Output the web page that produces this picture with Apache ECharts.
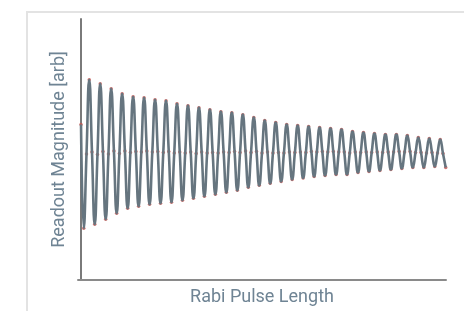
<!DOCTYPE html>
<html>
<head>
<meta charset="utf-8">
<script src="https://cdn.jsdelivr.net/npm/echarts@6/dist/echarts.min.js"></script>
<style>
html,body{margin:0;padding:0;background:#fff;}
#c{width:464px;height:311px;}
</style>
</head>
<body>
<div id="c"></div>
<script>
// Rabi pulse length (sample index, uniform sweep)
var pulseLength = [
  0,1,2,3,4,5,6,7,8,9,10,11,12,13,14,15,16,17,18,19,
  20,21,22,23,24,25,26,27,28,29,30,31,32,33,34,35,36,37,38,39,
  40,41,42,43,44,45,46,47,48,49,50,51,52,53,54,55,56,57,58,59,
  60,61,62,63,64,65,66,67,68,69,70,71,72,73,74,75,76,77,78,79,
  80,81,82,83,84,85,86,87,88,89,90,91,92,93,94,95,96,97,98,99,
  100,101,102,103,104,105,106,107,108,109,110,111,112,113,114,115,116,117,118,119,
  120,121,122,123,124,125,126,127,128,129,130,131,132,133
];
// Readout magnitude [arb]
var readoutMagnitude = [
  156,
  52,126.5,201,128.5,  56,126,197,129,  61,126.5,192,129.5,  67,127,187,129.5,
  72,128,184,129,  74,128.5,183,129.5,  76,128.5,181,129,  77,128,180,129,
  78,127.5,177,128.5,  80,127.5,175,128.5,  82,127,173,128.5,  84,127.5,171,128,
  86,127.5,169,128.5,  88,128,168,129,  90,128,166,129.5,  93,128,163,129,
  95,127.5,160,128.5,  97,127.5,158,128,  99,127.5,156,128.5,  101,128,155,128.5,
  102.5,128,154,129,  104,128.5,153,129,  105,128.5,152,129,  106,128.5,151,128.5,
  106,127.5,149,128.5,  108,128,148,128.5,  109,128,147,128.5,  110,128,146,128.5,
  111,128.5,146,129,  112,128.5,145,129,  113,128,143,128,  113,127.5,142,128,
  114,127.5,141,127,
  113
];
var xTitle = 'Rabi Pulse Length';
var yTitle = 'Readout Magnitude [arb]';

var pts = pulseLength.map(function(x, i){ return [x, readoutMagnitude[i]]; });

var chart = echarts.init(document.getElementById('c'), null, {renderer:'canvas'});
chart.setOption({
  animation: false,
  backgroundColor: '#ffffff',
  graphic: [{
    type: 'rect', silent: true, z: -10,
    shape: {x: 27, y: 12, width: 460, height: 320},
    style: {fill: 'none', stroke: '#e3e3e3', lineWidth: 2}
  }],
  grid: {left: 78, right: 18, top: 19, bottom: 30, containLabel: false},
  xAxis: {
    type: 'value', min: -1.1, max: 133.1,
    name: xTitle, nameLocation: 'middle', nameGap: 8,
    nameTextStyle: {color: '#6f8494', fontSize: 18, fontFamily: 'Roboto'},
    axisLine: {show: true, lineStyle: {color: '#8a8a8a', width: 2}},
    axisTick: {show: false}, axisLabel: {show: false}, splitLine: {show: false}
  },
  yAxis: {
    type: 'value', min: 0, max: 262,
    name: yTitle, nameLocation: 'middle', nameGap: 10, nameRotate: 90,
    nameTextStyle: {color: '#6f8494', fontSize: 18, fontFamily: 'Roboto'},
    axisLine: {show: true, lineStyle: {color: '#7a7a7a', width: 2}},
    axisTick: {show: false}, axisLabel: {show: false}, splitLine: {show: false}
  },
  series: [
    {
      name: 'data', type: 'scatter', data: pts, z: 1,
      symbolSize: 3.5, itemStyle: {color: '#c8524e', opacity: 0.8}
    },
    {
      name: 'fit', type: 'line', data: pts, z: 2,
      smooth: true, showSymbol: false,
      lineStyle: {color: '#66757f', width: 2.6}
    }
  ]
});
</script>
</body>
</html>
